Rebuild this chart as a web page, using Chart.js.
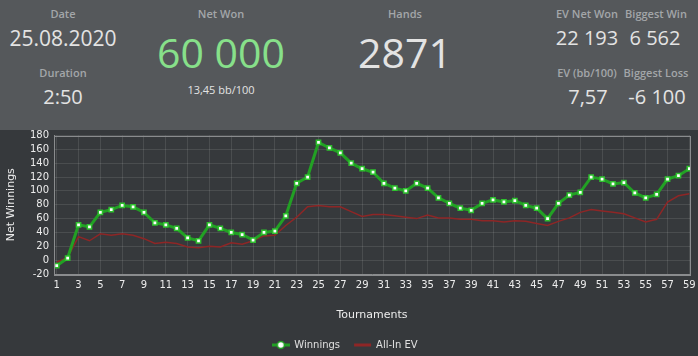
<!DOCTYPE html>
<html>
<head>
<meta charset="utf-8">
<script src="https://cdn.jsdelivr.net/npm/chart.js@4/dist/chart.umd.min.js"></script>
<style>
  html, body { margin:0; padding:0; }
  body { width:698px; height:356px; background:#36393c; position:relative; overflow:hidden; font-family:"Open Sans", sans-serif; }
  #header { position:absolute; left:0; top:0; width:698px; height:130px; background:#55585b; }
  .t { position:absolute; transform:translate(-50%,-50%); line-height:1; white-space:nowrap; }
  .lbl { font-size:11px; font-weight:600; color:#a3a6a9; }
  .val { color:#e3e3e3; }
  #wrap { position:absolute; left:0; top:130px; width:698px; height:226px; }
</style>
</head>
<body>
<div id="header">
  <div class="t lbl" style="left:63px;top:13px">Date</div>
  <div class="t val" style="left:63px;top:38px;font-size:21px">25.08.2020</div>
  <div class="t lbl" style="left:63px;top:72px">Duration</div>
  <div class="t val" style="left:63px;top:97px;font-size:20px">2:50</div>

  <div class="t lbl" style="left:221px;top:13px">Net Won</div>
  <div class="t" style="left:221px;top:52px;font-size:41px;color:#87e08a">60 000</div>
  <div class="t val" style="left:221px;top:89px;font-size:11px">13,45 bb/100</div>

  <div class="t lbl" style="left:405px;top:13px">Hands</div>
  <div class="t val" style="left:405px;top:52px;font-size:41px">2871</div>

  <div class="t lbl" style="left:587px;top:13px">EV Net Won</div>
  <div class="t val" style="left:587px;top:38px;font-size:20px">22 193</div>
  <div class="t lbl" style="left:587px;top:72px">EV (bb/100)</div>
  <div class="t val" style="left:588px;top:97px;font-size:20px">7,57</div>

  <div class="t lbl" style="left:656px;top:13px">Biggest Win</div>
  <div class="t val" style="left:655px;top:38px;font-size:20px">6 562</div>
  <div class="t lbl" style="left:656px;top:72px">Biggest Loss</div>
  <div class="t val" style="left:657px;top:97px;font-size:20px">-6 100</div>
</div>
<div id="wrap"><canvas id="c" width="698" height="226"></canvas></div>
<script>
const tournaments = [1,2,3,4,5,6,7,8,9,10,11,12,13,14,15,16,17,18,19,20,21,22,23,24,25,26,27,28,29,30,31,32,33,34,35,36,37,38,39,40,41,42,43,44,45,46,47,48,49,50,51,52,53,54,55,56,57,58,59];
const winnings = [-8,3,51,48,69,73,79,77,69,54,51,46,32,28,51,46,40,37,29,40,42,64,111,120,170,162,155,140,132,127,111,104,100,111,104,90,82,75,72,82,87,84,86,79,75,60,82,94,98,120,117,110,112,97,90,95,117,122,132];
const allInEV = [-3,4,34,28,38,36,38,36,31,24,26,24,19,18,20,19,25,23,28,35,36,50,62,77,79,77,77,70,63,66,66,64,62,60,65,61,61,59,59,57,57,55,57,56,53,50,56,61,69,73,71,69,67,61,55,59,84,93,96];
const xTickValues = [1,3,5,7,9,11,13,15,17,19,21,23,25,27,29,31,33,35,37,39,41,43,45,47,49,51,53,55,57,59];

const GREEN = '#22a024';
const RED = '#8e2626';

// legend marker for Winnings: line with a point
const mk = document.createElement('canvas');
mk.width = 18; mk.height = 10;
(function(){
  const g = mk.getContext('2d');
  g.strokeStyle = GREEN; g.lineWidth = 3;
  g.beginPath(); g.moveTo(0,5); g.lineTo(18,5); g.stroke();
  g.fillStyle = '#ffffff'; g.strokeStyle = GREEN; g.lineWidth = 1.5;
  g.beginPath(); g.arc(9,5,3.5,0,Math.PI*2); g.fill(); g.stroke();
})();

const frame = {
  id: 'frame',
  beforeLayout(chart) {
    const lg = chart.legend;
    if (lg && !lg._wrapped) {
      const orig = lg.fit.bind(lg);
      lg.fit = function() { orig(); this.height = 30; };
      lg._wrapped = true;
    }
  },
  afterDraw(chart) {
    const a = chart.chartArea, ctx = chart.ctx;
    ctx.save();
    ctx.strokeStyle = '#8a8c8e'; ctx.lineWidth = 1;
    ctx.strokeRect(Math.round(a.left)+0.5, Math.round(a.top)+0.5, Math.round(a.right-a.left), Math.round(a.bottom-a.top));
    ctx.restore();
  }
};

new Chart(document.getElementById('c'), {
  type: 'line',
  data: {
    datasets: [
      {
        label: 'Winnings',
        data: tournaments.map((t,i) => ({x:t, y:winnings[i]})),
        borderColor: GREEN,
        borderWidth: 3,
        pointStyle: 'rect',
        pointRadius: 3,
        pointBackgroundColor: '#ffffff',
        pointBorderColor: '#2ec02e',
        pointBorderWidth: 1.5,
        tension: 0
      },
      {
        label: 'All-In EV',
        data: tournaments.map((t,i) => ({x:t, y:allInEV[i]})),
        borderColor: RED,
        borderWidth: 1.5,
        pointRadius: 0,
        tension: 0
      }
    ]
  },
  options: {
    responsive: false,
    animation: false,
    layout: { padding: { top: 5, right: 8, left: 0, bottom: 0 } },
    plugins: {
      tooltip: { enabled: false },
      legend: {
        position: 'bottom',
        labels: {
          color: '#e0e0e0',
          font: { family: 'DejaVu Sans', size: 10 },
          usePointStyle: true,
          pointStyleWidth: 17,
          padding: 14,
          generateLabels(chart) {
            return [
              { text: 'Winnings', pointStyle: mk, fillStyle: '#fff', strokeStyle: GREEN, lineWidth: 0, datasetIndex: 0, fontColor: '#e0e0e0' },
              { text: 'All-In EV', pointStyle: 'line', fillStyle: RED, strokeStyle: RED, lineWidth: 3, datasetIndex: 1, fontColor: '#e0e0e0' }
            ];
          }
        }
      }
    },
    scales: {
      x: {
        type: 'linear',
        min: 0.75,
        max: 59.06,
        afterBuildTicks(axis) { axis.ticks = xTickValues.map(v => ({ value: v })); },
        afterFit(axis) { axis.height = 52; axis.paddingLeft = 0; axis.paddingRight = 0; },
        grid: { color: 'rgba(255,255,255,0.10)', drawTicks: false },
        border: { color: '#8a8c8e' },
        ticks: { color: '#ececec', font: { family: 'DejaVu Sans', size: 10 }, padding: 5, autoSkip: false, maxRotation: 0 },
        title: { display: true, text: 'Tournaments', color: '#ececec', font: { family: 'DejaVu Sans', size: 11 }, padding: { top: 0, bottom: 4 } }
      },
      y: {
        min: -20,
        max: 180,
        afterFit(axis) { axis.width = 54; axis.paddingTop = 0; axis.paddingBottom = 0; },
        grid: { color: 'rgba(255,255,255,0.10)', drawTicks: false },
        border: { color: '#8a8c8e' },
        ticks: { stepSize: 20, autoSkip: false, color: '#ececec', font: { family: 'DejaVu Sans', size: 10 }, padding: 5 },
        title: { display: true, text: 'Net Winnings', color: '#ececec', font: { family: 'DejaVu Sans', size: 11 }, padding: { top: 5, bottom: 0 } }
      }
    }
  },
  plugins: [frame]
});
</script>
</body>
</html>
